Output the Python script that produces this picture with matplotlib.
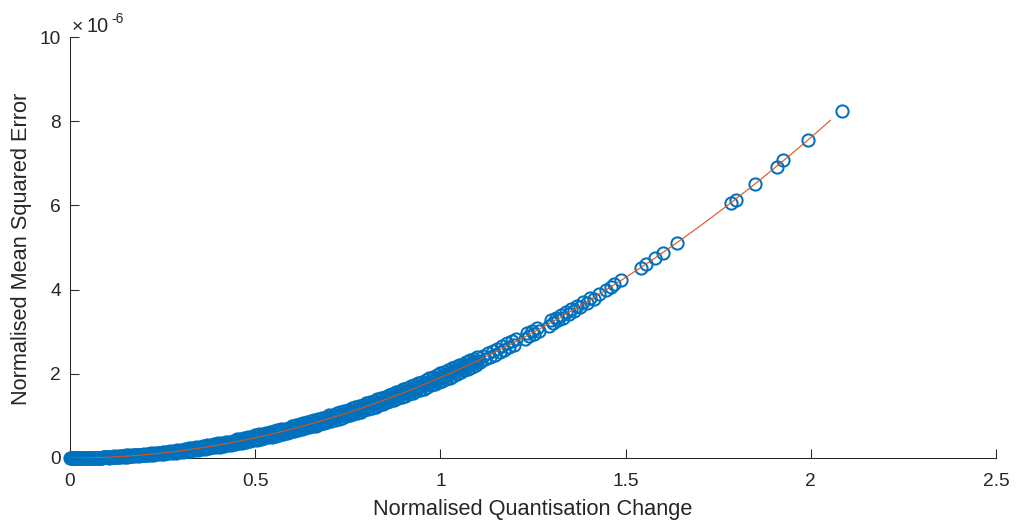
import numpy as np
import matplotlib
matplotlib.use("Agg")
import matplotlib.pyplot as plt
from matplotlib.ticker import FixedLocator, FuncFormatter

plt.rcParams['font.family'] = ['Liberation Sans', 'DejaVu Sans']

# Normalised quantisation change (x) and normalised MSE in units of 1e-6 (y)
quant_change = [
    0.000, 0.005, 0.010, 0.015, 0.020, 0.025, 0.030, 0.035, 0.040, 0.045,
    0.050, 0.055, 0.060, 0.065, 0.070, 0.075, 0.080, 0.085, 0.090, 0.095,
    0.100, 0.105, 0.110, 0.115, 0.120, 0.125, 0.130, 0.135, 0.140, 0.145,
    0.150, 0.155, 0.160, 0.165, 0.170, 0.175, 0.180, 0.185, 0.190, 0.195,
    0.200, 0.205, 0.210, 0.215, 0.220, 0.225, 0.230, 0.235, 0.240, 0.245,
    0.250, 0.255, 0.260, 0.265, 0.270, 0.275, 0.280, 0.285, 0.290, 0.295,
    0.300, 0.305, 0.310, 0.315, 0.320, 0.325, 0.330, 0.335, 0.340, 0.345,
    0.350, 0.355, 0.360, 0.365, 0.370, 0.375, 0.380, 0.385, 0.390, 0.395,
    0.400, 0.405, 0.410, 0.415, 0.420, 0.425, 0.430, 0.435, 0.440, 0.445,
    0.450, 0.455, 0.460, 0.465, 0.470, 0.475, 0.480, 0.485, 0.490, 0.495,
    0.500, 0.505, 0.510, 0.515, 0.520, 0.525, 0.530, 0.535, 0.540, 0.545,
    0.550, 0.555, 0.560, 0.565, 0.570, 0.575, 0.580, 0.585, 0.590, 0.595,
    0.600, 0.605, 0.610, 0.615, 0.620, 0.625, 0.630, 0.635, 0.640, 0.645,
    0.650, 0.655, 0.660, 0.665, 0.670, 0.675, 0.680, 0.685, 0.690, 0.695,
    0.700, 0.705, 0.710, 0.715, 0.720, 0.725, 0.730, 0.735, 0.740, 0.745,
    0.750, 0.755, 0.760, 0.765, 0.770, 0.775, 0.780, 0.785, 0.790, 0.795,
    0.800, 0.805, 0.810, 0.815, 0.820, 0.825, 0.830, 0.835, 0.840, 0.845,
    0.850, 0.855, 0.860, 0.865, 0.870, 0.875, 0.880, 0.885, 0.890, 0.895,
    0.900, 0.905, 0.910, 0.915, 0.920, 0.925, 0.930, 0.935, 0.940, 0.945,
    0.950, 0.955, 0.960, 0.965, 0.970, 0.975, 0.980, 0.985, 0.990, 0.995,
    1.000, 1.005, 1.010, 1.015, 1.020, 1.025, 1.030, 1.035, 1.040, 1.045,
    1.050, 1.055, 1.060, 1.065, 1.070, 1.075, 1.080, 1.085, 1.090, 1.095,
    1.100,
    1.108, 1.115, 1.121, 1.128, 1.134, 1.141, 1.147, 1.154, 1.160, 1.167,
    1.173, 1.180, 1.186, 1.193, 1.199, 1.205,
    1.228, 1.234, 1.240, 1.247, 1.253, 1.260, 1.266,
    1.292, 1.298, 1.305, 1.311, 1.318, 1.325, 1.331, 1.339, 1.346, 1.352,
    1.360, 1.368, 1.377, 1.386, 1.395, 1.405, 1.415,
    1.427, 1.446, 1.460, 1.469, 1.487, 1.541, 1.554, 1.580, 1.600, 1.638,
    1.784, 1.797, 1.849, 1.908, 1.926, 1.992, 2.085,
]

mse_e6 = [
    0.00, 0.00, 0.00, 0.00, 0.00, 0.00, 0.00, 0.00, 0.00, 0.00,
    0.00, 0.01, 0.01, 0.01, 0.01, 0.01, 0.01, 0.01, 0.02, 0.02,
    0.03, 0.01, 0.03, 0.02, 0.04, 0.02, 0.04, 0.02, 0.05, 0.03,
    0.06, 0.03, 0.06, 0.04, 0.07, 0.04, 0.08, 0.05, 0.08, 0.06,
    0.10, 0.06, 0.10, 0.07, 0.11, 0.08, 0.12, 0.09, 0.13, 0.09,
    0.14, 0.10, 0.15, 0.11, 0.16, 0.12, 0.17, 0.13, 0.19, 0.14,
    0.20, 0.15, 0.21, 0.16, 0.23, 0.17, 0.24, 0.18, 0.25, 0.20,
    0.27, 0.21, 0.28, 0.22, 0.30, 0.23, 0.31, 0.25, 0.33, 0.26,
    0.35, 0.27, 0.36, 0.29, 0.38, 0.30, 0.39, 0.32, 0.41, 0.34,
    0.44, 0.35, 0.45, 0.36, 0.47, 0.38, 0.49, 0.40, 0.51, 0.42,
    0.54, 0.43, 0.56, 0.45, 0.58, 0.47, 0.60, 0.49, 0.62, 0.51,
    0.64, 0.53, 0.66, 0.55, 0.68, 0.57, 0.70, 0.59, 0.72, 0.62,
    0.75, 0.63, 0.78, 0.66, 0.80, 0.68, 0.82, 0.71, 0.85, 0.73,
    0.88, 0.75, 0.90, 0.77, 0.93, 0.80, 0.95, 0.83, 0.98, 0.85,
    1.01, 0.88, 1.03, 0.91, 1.06, 0.93, 1.09, 0.96, 1.12, 0.99,
    1.15, 1.01, 1.18, 1.04, 1.21, 1.07, 1.24, 1.10, 1.27, 1.13,
    1.30, 1.16, 1.33, 1.19, 1.36, 1.22, 1.39, 1.26, 1.42, 1.29,
    1.46, 1.32, 1.49, 1.35, 1.53, 1.38, 1.56, 1.42, 1.59, 1.45,
    1.63, 1.48, 1.67, 1.51, 1.70, 1.55, 1.74, 1.58, 1.77, 1.62,
    1.81, 1.65, 1.85, 1.69, 1.89, 1.73, 1.92, 1.76, 1.96, 1.80,
    2.01, 1.83, 2.05, 1.87, 2.09, 1.91, 2.13, 1.95, 2.17, 1.99,
    2.20, 2.04, 2.24, 2.08, 2.28, 2.12, 2.32, 2.16, 2.36, 2.20,
    2.39,
    2.28, 2.43, 2.34, 2.49, 2.40, 2.55, 2.45, 2.60, 2.51, 2.66,
    2.57, 2.72, 2.63, 2.78, 2.69, 2.83,
    2.83, 2.96, 2.89, 3.02, 2.95, 3.08, 3.01,
    3.14, 3.27, 3.20, 3.33, 3.27, 3.40, 3.33, 3.47, 3.41, 3.54,
    3.49, 3.61, 3.58, 3.71, 3.68, 3.81, 3.78,
    3.89, 3.99, 4.07, 4.13, 4.23, 4.52, 4.61, 4.74, 4.86, 5.10,
    6.05, 6.14, 6.50, 6.91, 7.08, 7.55, 8.25,
]

# second batch of measurements filling the low-change range
quant_change_b = [
    0.0025, 0.0075, 0.0125, 0.0175, 0.0225, 0.0275, 0.0325, 0.0375, 0.0425, 0.0475,
    0.0525, 0.0575, 0.0625, 0.0675, 0.0725, 0.0775, 0.0825, 0.0875, 0.0925, 0.0975,
    0.1025, 0.1075, 0.1125, 0.1175, 0.1225, 0.1275, 0.1325, 0.1375, 0.1425, 0.1475,
    0.1525, 0.1575, 0.1625, 0.1675, 0.1725, 0.1775, 0.1825, 0.1875, 0.1925, 0.1975,
    0.2025, 0.2075, 0.2125, 0.2175, 0.2225, 0.2275, 0.2325, 0.2375, 0.2425, 0.2475,
    0.2525, 0.2575, 0.2625, 0.2675, 0.2725, 0.2775, 0.2825, 0.2875, 0.2925, 0.2975,
    0.3025, 0.3075, 0.3125, 0.3175, 0.3225, 0.3275, 0.3325, 0.3375, 0.3425, 0.3475,
    0.3525, 0.3575, 0.3625, 0.3675, 0.3725, 0.3775, 0.3825, 0.3875, 0.3925, 0.3975,
    0.4025, 0.4075, 0.4125, 0.4175, 0.4225, 0.4275, 0.4325, 0.4375, 0.4425, 0.4475,
    0.4525, 0.4575, 0.4625, 0.4675, 0.4725, 0.4775, 0.4825, 0.4875, 0.4925, 0.4975,
    0.5025, 0.5075, 0.5125, 0.5175, 0.5225, 0.5275, 0.5325, 0.5375, 0.5425, 0.5475,
    0.5525, 0.5575, 0.5625, 0.5675, 0.5725, 0.5775, 0.5825, 0.5875, 0.5925, 0.5975,
    0.6025, 0.6075, 0.6125, 0.6175, 0.6225, 0.6275, 0.6325, 0.6375, 0.6425, 0.6475,
    0.6525, 0.6575, 0.6625, 0.6675, 0.6725, 0.6775, 0.6825, 0.6875, 0.6925, 0.6975,
    0.7025, 0.7075, 0.7125, 0.7175, 0.7225, 0.7275, 0.7325, 0.7375, 0.7425, 0.7475,
    0.7525, 0.7575, 0.7625, 0.7675, 0.7725, 0.7775, 0.7825, 0.7875, 0.7925, 0.7975,
    0.8025, 0.8075, 0.8125, 0.8175, 0.8225, 0.8275, 0.8325, 0.8375, 0.8425, 0.8475,
    0.8525, 0.8575, 0.8625, 0.8675, 0.8725, 0.8775, 0.8825, 0.8875, 0.8925, 0.8975,
    0.9025, 0.9075, 0.9125, 0.9175, 0.9225, 0.9275, 0.9325, 0.9375, 0.9425, 0.9475,
    0.9525, 0.9575, 0.9625, 0.9675, 0.9725, 0.9775, 0.9825, 0.9875, 0.9925, 0.9975,
    1.0025, 1.0075, 1.0125, 1.0175, 1.0225, 1.0275, 1.0325, 1.0375, 1.0425, 1.0475,
    1.0525, 1.0575, 1.0625, 1.0675, 1.0725, 1.0775, 1.0825, 1.0875, 1.0925, 1.0975,
]

mse_e6_b = [
    0.00, 0.00, 0.00, 0.00, 0.00, 0.00, 0.00, 0.00, 0.00, 0.00,
    0.01, 0.01, 0.01, 0.01, 0.01, 0.01, 0.01, 0.01, 0.02, 0.02,
    0.02, 0.02, 0.02, 0.03, 0.03, 0.03, 0.03, 0.04, 0.04, 0.04,
    0.04, 0.05, 0.05, 0.05, 0.06, 0.06, 0.06, 0.07, 0.07, 0.07,
    0.08, 0.08, 0.09, 0.09, 0.09, 0.10, 0.10, 0.11, 0.11, 0.12,
    0.12, 0.13, 0.13, 0.14, 0.14, 0.15, 0.15, 0.16, 0.16, 0.17,
    0.17, 0.18, 0.19, 0.19, 0.20, 0.20, 0.21, 0.22, 0.22, 0.23,
    0.24, 0.24, 0.25, 0.26, 0.27, 0.27, 0.28, 0.29, 0.29, 0.30,
    0.31, 0.32, 0.33, 0.33, 0.34, 0.35, 0.36, 0.37, 0.37, 0.38,
    0.39, 0.40, 0.41, 0.42, 0.43, 0.44, 0.44, 0.45, 0.46, 0.47,
    0.48, 0.49, 0.50, 0.51, 0.52, 0.53, 0.54, 0.55, 0.56, 0.57,
    0.58, 0.59, 0.60, 0.62, 0.63, 0.64, 0.65, 0.66, 0.67, 0.68,
    0.69, 0.70, 0.72, 0.73, 0.74, 0.75, 0.76, 0.78, 0.79, 0.80,
    0.81, 0.83, 0.84, 0.85, 0.86, 0.88, 0.89, 0.90, 0.92, 0.93,
    0.94, 0.96, 0.97, 0.98, 1.00, 1.01, 1.02, 1.04, 1.05, 1.07,
    1.08, 1.10, 1.11, 1.13, 1.14, 1.15, 1.17, 1.18, 1.20, 1.21,
    1.23, 1.25, 1.26, 1.28, 1.29, 1.31, 1.32, 1.34, 1.36, 1.37,
    1.39, 1.40, 1.42, 1.44, 1.45, 1.47, 1.49, 1.50, 1.52, 1.54,
    1.56, 1.57, 1.59, 1.61, 1.63, 1.64, 1.66, 1.68, 1.70, 1.71,
    1.73, 1.75, 1.77, 1.79, 1.81, 1.82, 1.84, 1.86, 1.88, 1.90,
    1.92, 1.94, 1.96, 1.98, 2.00, 2.02, 2.04, 2.06, 2.08, 2.10,
    2.12, 2.14, 2.16, 2.18, 2.20, 2.22, 2.24, 2.26, 2.28, 2.30,
]

x_ticks = [0, 0.5, 1, 1.5, 2, 2.5]
x_tick_labels = ["0", "0.5", "1", "1.5", "2", "2.5"]
y_ticks_e6 = [0, 2, 4, 6, 8, 10]
fit_x_max = 2.053

blue = "#0072BD"
orange = "#D95319"
axis_grey = "#262626"

x = np.concatenate([quant_change, quant_change_b])
y = np.concatenate([mse_e6, mse_e6_b]) * 1e-6

# quadratic least-squares fit through the measurements
coef = np.polyfit(x, y, 2)
fit_x = np.linspace(0, fit_x_max, 200)
fit_y = np.polyval(coef, fit_x)

fig = plt.figure(figsize=(10.17, 5.23), dpi=100)
W, H = 1017, 523
ax = fig.add_axes([70 / W, 1 - 458 / H, (996 - 70) / W, (458 - 37) / H])

ax.plot(x, y, linestyle="none", marker="o", markersize=8.8,
        markerfacecolor="none", markeredgecolor=blue, markeredgewidth=1.45,
        clip_on=False, zorder=3)
ax.plot(fit_x, fit_y, color=orange, linewidth=0.8, zorder=4)

ax.set_xlim(0, 2.5)
ax.set_ylim(0, 10e-6)
ax.xaxis.set_major_locator(FixedLocator(x_ticks))
ax.set_xticklabels(x_tick_labels)
ax.yaxis.set_major_locator(FixedLocator([v * 1e-6 for v in y_ticks_e6]))
ax.yaxis.set_major_formatter(FuncFormatter(lambda v, p: f"{v * 1e6:g}"))

for side in ("top", "right"):
    ax.spines[side].set_visible(False)
for side in ("left", "bottom"):
    ax.spines[side].set_color(axis_grey)
    ax.spines[side].set_linewidth(0.75)

ax.tick_params(axis="both", direction="in", length=6.5, width=0.75,
               colors=axis_grey, labelsize=13.8)
ax.tick_params(axis="x", pad=11)
ax.tick_params(axis="y", pad=6.5)

# axis titles
fig.text(533 / W, 1 - 515 / H, "Normalised Quantisation Change",
         ha="center", va="baseline", fontsize=15.7, color=axis_grey)
fig.text(22 / W, 1 - 249 / H, "Normalised Mean Squared Error",
         ha="center", va="center", rotation=90, fontsize=15.7, color=axis_grey)

# exponent marker for the y axis
fig.text(72 / W, 1 - 32 / H, "×", ha="left", va="baseline",
         fontsize=14, color=axis_grey)
fig.text(86.5 / W, 1 - 32 / H, "10", ha="left", va="baseline",
         fontsize=14.3, color=axis_grey)
fig.text(111 / W, 1 - 23 / H, "-6", ha="left", va="baseline",
         fontsize=10, color=axis_grey)

fig.savefig("out.png", dpi=100, facecolor="white")
